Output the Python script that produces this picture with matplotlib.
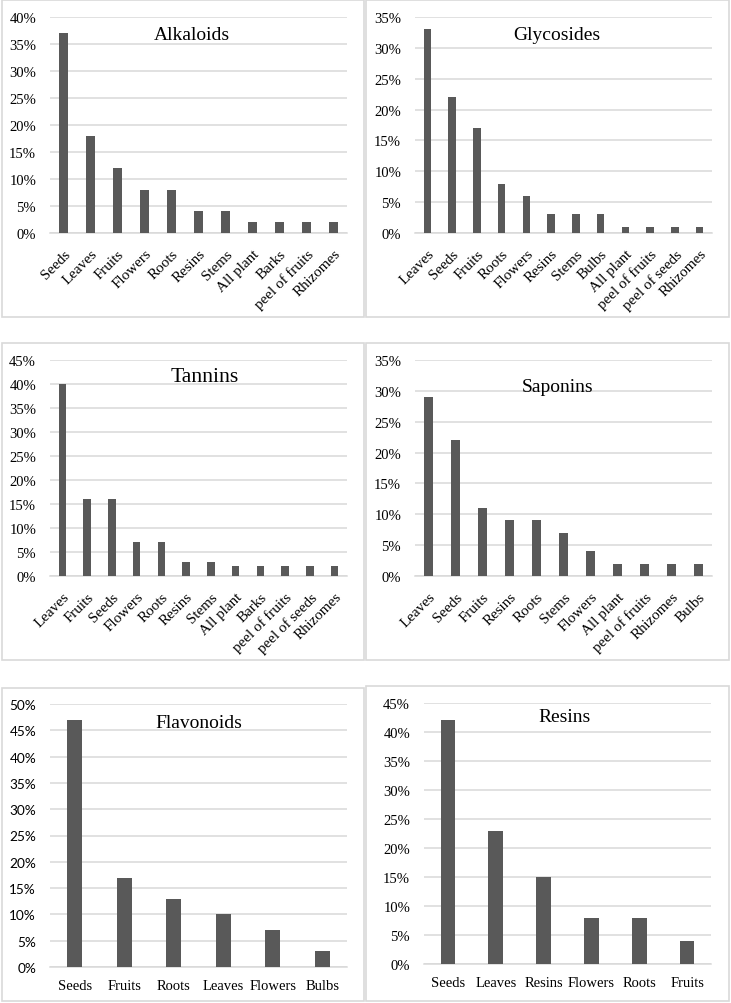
import matplotlib
matplotlib.use("Agg")
import matplotlib.pyplot as plt
from matplotlib.patches import Rectangle
from matplotlib.ticker import MultipleLocator, FuncFormatter

# ---------------- data ----------------
alk_cats = ["Seeds", "Leaves", "Fruits", "Flowers", "Roots", "Resins", "Stems",
            "All plant", "Barks", "peel of fruits", "Rhizomes"]
alk_vals = [37, 18, 12, 8, 8, 4, 4, 2, 2, 2, 2]

gly_cats = ["Leaves", "Seeds", "Fruits", "Roots", "Flowers", "Resins", "Stems",
            "Bulbs", "All plant", "peel of fruits", "peel of seeds", "Rhizomes"]
gly_vals = [33, 22, 17, 8, 6, 3, 3, 3, 1, 1, 1, 1]

tan_cats = ["Leaves", "Fruits", "Seeds", "Flowers", "Roots", "Resins", "Stems",
            "All plant", "Barks", "peel of fruits", "peel of seeds", "Rhizomes"]
tan_vals = [40, 16, 16, 7, 7, 3, 3, 2, 2, 2, 2, 2]

sap_cats = ["Leaves", "Seeds", "Fruits", "Resins", "Roots", "Stems", "Flowers",
            "All plant", "peel of fruits", "Rhizomes", "Bulbs"]
sap_vals = [29, 22, 11, 9, 9, 7, 4, 2, 2, 2, 2]

fla_cats = ["Seeds", "Fruits", "Roots", "Leaves", "Flowers", "Bulbs"]
fla_vals = [47, 17, 13, 10, 7, 3]

res_cats = ["Seeds", "Leaves", "Resins", "Flowers", "Roots", "Fruits"]
res_vals = [42, 23, 15, 8, 8, 4]

titles = ["Alkaloids", "Glycosides", "Tannins", "Saponins", "Flavonoids", "Resins"]
y_max = [40, 35, 45, 35, 50, 45]

# ---------------- layout ----------------
W, H = 731, 1004
fig = plt.figure(figsize=(W / 100, H / 100), dpi=100)
fig.patch.set_facecolor("white")

SERIF = ["Liberation Serif", "DejaVu Serif"]
BAR = "#595959"
GRID = "#d9d9d9"

# panel borders (x0, y0, x1, y1) in pixels, top-left origin
borders = [(2, 1, 364, 318), (366, 1, 729, 318),
           (2, 344, 364, 661), (366, 344, 729, 661),
           (2, 689, 364, 1002), (366, 687, 729, 1002)]
# axes (left, right, y_top, y_zero) in pixels
axes_px = [(50, 347, 18, 234), (415, 712, 18, 234),
           (50, 347, 361, 577), (415, 712, 361, 577),
           (50, 347, 705, 968), (424, 711, 704, 965)]
title_px = [(192, 36, 14), (557, 36, 14), (205, 377, 15.6),
            (558, 387, 14), (199, 724, 14), (565, 717, 14)]

data = [(alk_cats, alk_vals), (gly_cats, gly_vals), (tan_cats, tan_vals),
        (sap_cats, sap_vals), (fla_cats, fla_vals), (res_cats, res_vals)]

for (x0, y0, x1, y1) in borders:
    fig.patches.append(Rectangle((x0 / W, 1 - y1 / H), (x1 - x0) / W, (y1 - y0) / H,
                                 transform=fig.transFigure, fill=False,
                                 edgecolor=GRID, linewidth=1.2))

for i, ((cats, vals), (l, r, yt, yz)) in enumerate(zip(data, axes_px)):
    ax = fig.add_axes([l / W, 1 - yz / H, (r - l) / W, (yz - yt) / H])
    ax.set_facecolor("none")
    x = list(range(len(cats)))
    ax.bar(x, vals, width=0.31, color=BAR, zorder=3)
    ax.set_xlim(-0.5, len(cats) - 0.5)
    ax.set_ylim(0, y_max[i])
    ax.yaxis.set_major_locator(MultipleLocator(5))
    ax.yaxis.set_major_formatter(FuncFormatter(lambda v, p: f"{int(round(v))}%"))
    ax.grid(axis="y", color=GRID, linewidth=1.1, zorder=0)
    for s in ["top", "right", "left"]:
        ax.spines[s].set_visible(False)
    ax.spines["bottom"].set_color(GRID)
    ax.spines["bottom"].set_linewidth(1.1)
    ax.tick_params(axis="both", length=0)
    ax.set_xticks(x)
    if i < 4:
        ax.set_xticklabels(cats, rotation=45, ha="right", rotation_mode="anchor",
                           fontsize=10.8, family=SERIF)
        ax.tick_params(axis="x", pad=10)
    else:
        ax.set_xticklabels(cats, fontsize=10.5, family=SERIF)
        ax.tick_params(axis="x", pad=9)
    if i == 4:
        for t in ax.get_yticklabels():
            t.set_family(["Lato", "DejaVu Sans"])
            t.set_fontsize(9.8)
    else:
        for t in ax.get_yticklabels():
            t.set_family(SERIF)
            t.set_fontsize(10.5)
    ax.tick_params(axis="y", pad=10)
    tx, ty, fs = title_px[i]
    fig.text(tx / W, 1 - ty / H, titles[i], ha="center", va="center",
             fontsize=fs, family=SERIF)

fig.savefig("out.png", dpi=100, facecolor="white")
